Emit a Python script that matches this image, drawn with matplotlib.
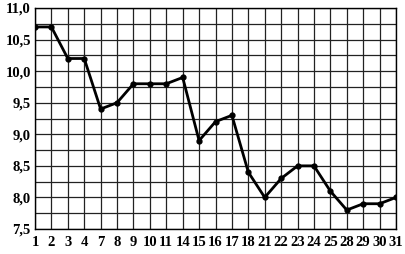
import matplotlib.pyplot as plt
import numpy as np

days = ['1', '2', '3', '4', '7', '8', '9', '10', '11', '14', '15', '16',
        '17', '18', '21', '22', '23', '24', '25', '28', '29', '30', '31']
values = [10.7, 10.7, 10.2, 10.2, 9.4, 9.5, 9.8, 9.8, 9.8, 9.9, 8.9, 9.2,
          9.3, 8.4, 8.0, 8.3, 8.5, 8.5, 8.1, 7.8, 7.9, 7.9, 8.0]
y_ticks = [7.5, 8.0, 8.5, 9.0, 9.5, 10.0, 10.5, 11.0]

plt.rcParams['font.family'] = ['Liberation Serif', 'DejaVu Serif']

fig = plt.figure(figsize=(4.05, 2.54), dpi=100)
ax = fig.add_axes([35 / 405, 1 - 229 / 254, 361 / 405, 221 / 254])

x = np.arange(len(days))
ax.set_xlim(0, len(days) - 1)
ax.set_ylim(7.5, 11.0)

# сетка: вертикали по каждому дню, горизонтали через 0,25
for xi in x:
    ax.axvline(xi, color='#222222', lw=0.9, zorder=1)
for yv in np.arange(7.5, 11.01, 0.25):
    ax.axhline(yv, color='#222222', lw=0.9, zorder=1)

ax.plot(x, values, color='black', lw=2.0, marker='o', ms=3.5, zorder=3)

ax.set_xticks(x)
ax.set_xticklabels(days)
ax.set_yticks(y_ticks)
ax.set_yticklabels([f'{v:.1f}'.replace('.', ',') for v in y_ticks])
ax.tick_params(length=0, labelsize=10.5)
ax.tick_params(axis='x', pad=5)
ax.tick_params(axis='y', pad=3)
for lab in ax.get_xticklabels() + ax.get_yticklabels():
    lab.set_fontweight('bold')
for s in ax.spines.values():
    s.set_linewidth(1.0)

fig.savefig('out.png', dpi=100)
